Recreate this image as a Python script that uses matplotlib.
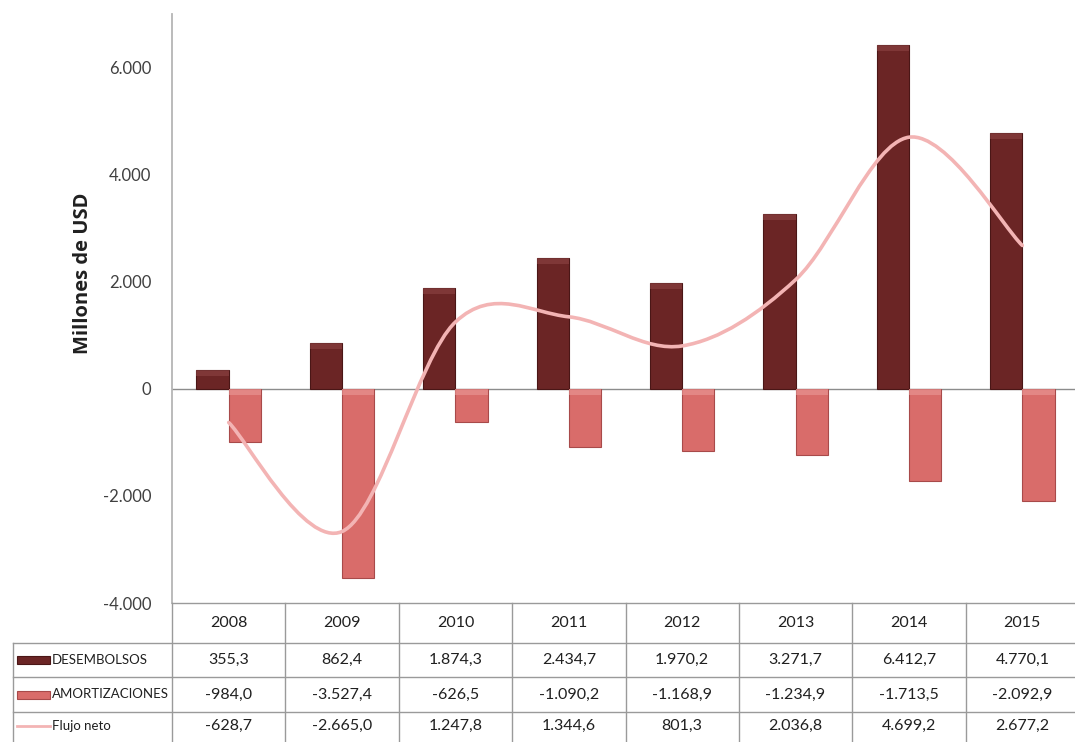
import numpy as np
import matplotlib
matplotlib.use("Agg")
from matplotlib import pyplot as plt
from matplotlib.path import Path
from matplotlib.patches import PathPatch, Rectangle
from matplotlib.lines import Line2D
import matplotlib.transforms as mtransforms

years = ["2008", "2009", "2010", "2011", "2012", "2013", "2014", "2015"]
desembolsos = [355.3, 862.4, 1874.3, 2434.7, 1970.2, 3271.7, 6412.7, 4770.1]
amortizaciones = [-984.0, -3527.4, -626.5, -1090.2, -1168.9, -1234.9, -1713.5, -2092.9]
flujo_neto = [-628.7, -2665.0, 1247.8, 1344.6, 801.3, 2036.8, 4699.2, 2677.2]
series_names = ["DESEMBOLSOS", "AMORTIZACIONES", "Flujo neto"]
y_ticks = [-4000, -2000, 0, 2000, 4000, 6000]

DARK = "#6b2525"
DARK_EDGE = "#4a1616"
DARK_CAP = "#8e4444"
PINK = "#d96c6a"
PINK_EDGE = "#a84a4a"
PINK_CAP = "#eb9a98"
LINE = "#f3b4b4"
GRID = "#9a9a9a"
FONT = ["Lato", "DejaVu Sans"]


def fmt(v, dec):
    # Spanish style: dot for thousands, comma for decimals
    s = f"{v:,.{dec}f}"
    return s.replace(",", "_").replace(".", ",").replace("_", ".")


def smooth_path(xs, ys):
    # Catmull-Rom style bezier through every point, like a spreadsheet "smoothed line"
    pts = np.column_stack([xs, ys]).astype(float)
    n = len(pts)
    verts = [pts[0]]
    codes = [Path.MOVETO]
    for i in range(n - 1):
        p0 = pts[i - 1] if i > 0 else pts[i]
        p1 = pts[i]
        p2 = pts[i + 1]
        p3 = pts[i + 2] if i + 2 < n else pts[i + 1]
        c1 = p1 + (p2 - p0) / 6.0
        c2 = p2 - (p3 - p1) / 6.0
        verts += [c1, c2, p2]
        codes += [Path.CURVE4] * 3
    return Path(verts, codes)


W, H = 1075, 742
fig = plt.figure(figsize=(W / 100, H / 100), dpi=100)
ax = fig.add_axes([172 / W, 1 - 603 / H, 907 / W, (603 - 14) / H])

x = np.arange(len(years))
bw = 0.285
ax.bar(x - bw / 2, desembolsos, bw, color=DARK, edgecolor=DARK_EDGE, linewidth=0.8, zorder=2)
ax.bar(x + bw / 2, amortizaciones, bw, color=PINK, edgecolor=PINK_EDGE, linewidth=0.8, zorder=2)

# lighter bevel strip along the upper face of every bar
cap = 110
for xi, d, a in zip(x, desembolsos, amortizaciones):
    ax.add_patch(Rectangle((xi - bw, d - cap), bw, cap, facecolor=DARK_CAP,
                           edgecolor="none", alpha=0.6, zorder=3))
    ax.add_patch(Rectangle((xi, -cap), bw, cap, facecolor=PINK_CAP,
                           edgecolor="none", alpha=0.6, zorder=3))

ax.add_patch(PathPatch(smooth_path(x, flujo_neto), facecolor="none", edgecolor=LINE,
                       linewidth=2.6, zorder=4, capstyle="round"))

ax.axhline(0, color="#8c8c8c", linewidth=1.0, zorder=1)
ax.set_xlim(-0.5, len(years) - 0.5)
ax.set_ylim(-4000, 7000)
ax.set_yticks(y_ticks)
ax.set_yticklabels([fmt(v, 0) for v in y_ticks], fontsize=12, color="#404040",
                   family=FONT)
ax.tick_params(axis="y", length=0, pad=15)
ax.set_xticks([])
for side in ["top", "right", "bottom"]:
    ax.spines[side].set_visible(False)
ax.spines["left"].set_color("#b5b5b5")
ax.spines["left"].set_linewidth(1.3)

fig.text(83 / W, 1 - 273 / H, "Millones de USD", rotation=90, ha="center", va="center",
         fontsize=14.5, fontweight="bold", family="Open Sans", color="#202020")

# data table under the plot
tr = mtransforms.blended_transform_factory(ax.transData, fig.transFigure)
fy = lambda py: 1 - py / H
row_edges = [603, 643, 677, 712, 746]
left_px = 13

fig.add_artist(Line2D([-0.5, len(years) - 0.5], [fy(603)] * 2, transform=tr,
                      color=GRID, linewidth=1.0))
for r in row_edges[1:-1]:
    fig.add_artist(Line2D([left_px / W, 1.0], [fy(r)] * 2, transform=fig.transFigure,
                          color=GRID, linewidth=1.0))
for k in range(len(years) + 1):
    fig.add_artist(Line2D([k - 0.5] * 2, [fy(603), fy(H)], transform=tr,
                          color=GRID, linewidth=1.0))
fig.add_artist(Line2D([left_px / W] * 2, [fy(643), fy(H)], transform=fig.transFigure,
                      color=GRID, linewidth=1.0))

for k, yr in enumerate(years):
    fig.text(k, fy(623), yr, transform=tr, ha="center", va="center",
             fontsize=11.5, family=FONT, color="#202020")

rows = [desembolsos, amortizaciones, flujo_neto]
for j, (name, vals) in enumerate(zip(series_names, rows)):
    cy = fy((row_edges[j + 1] + row_edges[j + 2]) / 2 - (3 if j == 2 else 0))
    for k, v in enumerate(vals):
        fig.text(k, cy, fmt(v, 1), transform=tr, ha="center", va="center",
                 fontsize=11.5, family=FONT, color="#202020")
    fig.text(52 / W, cy, name, ha="left", va="center", fontsize=9.5,
             family=FONT, color="#202020")

# legend keys inside the row labels
for j, (fc, ec) in enumerate([(DARK, DARK_EDGE), (PINK, PINK_EDGE)]):
    cy = (row_edges[j + 1] + row_edges[j + 2]) / 2
    fig.add_artist(Rectangle((17 / W, fy(cy + 4)), 33 / W, 8 / H, transform=fig.transFigure,
                             facecolor=fc, edgecolor=ec, linewidth=0.8))
fig.add_artist(Line2D([17 / W, 50 / W], [fy(726)] * 2, transform=fig.transFigure,
                      color=LINE, linewidth=2.0))

fig.savefig("out.png", dpi=100)
